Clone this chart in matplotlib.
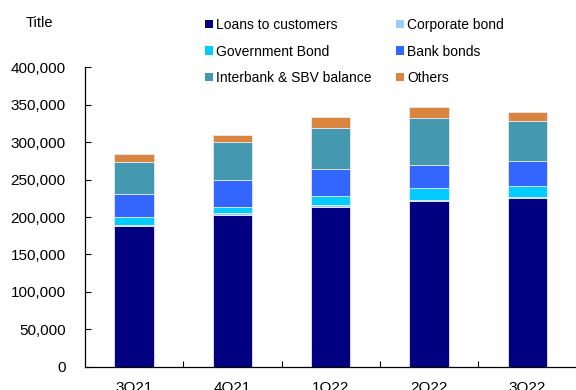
import matplotlib
matplotlib.use("Agg")
import matplotlib.pyplot as plt
from matplotlib.patches import Patch
from matplotlib.ticker import FuncFormatter
import numpy as np

plt.rcParams['font.family'] = ['Liberation Sans', 'DejaVu Sans']

# =========================
# DATOS
# =========================
trimestres = ["3Q21", "4Q21", "1Q22", "2Q22", "3Q22"]
loans = [187500, 203000, 213000, 221000, 225000]
corporate = [1500, 3000, 3500, 2000, 2000]
government = [10500, 7000, 12000, 16000, 15000]
bank = [31500, 36500, 36000, 31000, 32500]
interbank = [43000, 51500, 55000, 63000, 53500]
others = [10000, 9000, 14000, 14500, 12500]

series = [
    ("Loans to customers", loans, "#000080"),
    ("Corporate bond", corporate, "#99CCFF"),
    ("Government Bond", government, "#00CCFF"),
    ("Bank bonds", bank, "#3366FF"),
    ("Interbank & SBV balance", interbank, "#4499B0"),
    ("Others", others, "#DA853D"),
]

# =========================
# FIGURA
# =========================
fig = plt.figure(figsize=(5.76, 3.9), dpi=100)
ax = fig.add_axes([85 / 576, 1 - 366.7 / 390, (576.5 - 85) / 576, (366.7 - 67.5) / 390])

x = np.arange(len(trimestres))
base = np.zeros(len(trimestres))
for nombre, valores, color in series:
    ax.bar(x, valores, width=0.4, bottom=base, color=color,
           edgecolor="#e8e8f4", linewidth=0.6, label=nombre)
    base += np.array(valores)

ax.set_xlim(-0.5, len(trimestres) - 0.5)
ax.set_ylim(0, 400000)
ax.set_yticks(np.arange(0, 400001, 50000))
ax.yaxis.set_major_formatter(FuncFormatter(lambda v, p: f"{int(v):,}"))

ax.set_xticks(x)
ax.set_xticklabels(trimestres)
ax.set_xticks(np.arange(0.5, len(trimestres) - 0.5, 1), minor=True)
ax.tick_params(axis="x", which="major", length=0, pad=10, labelsize=11)
ax.tick_params(axis="x", which="minor", direction="in", length=4, width=0.8)
ax.tick_params(axis="y", direction="in", length=4, width=0.8, pad=14, labelsize=11)

for lado in ["top", "right"]:
    ax.spines[lado].set_visible(False)
for lado in ["left", "bottom"]:
    ax.spines[lado].set_linewidth(0.9)

fig.text(26 / 576, 1 - 23 / 390, "Title", fontsize=10.5, va="center", ha="left")

# leyenda por filas: matplotlib llena por columnas, asi que se reordena
orden = [0, 2, 4, 1, 3, 5]
handles = [Patch(facecolor=series[i][2], edgecolor="none") for i in orden]
labels = [series[i][0] for i in orden]
fig.legend(handles, labels, ncol=2, loc="upper left",
           bbox_to_anchor=(205 / 576, 1 - 18 / 390), frameon=False,
           fontsize=10, handlelength=0.55, handleheight=0.55, handletextpad=0.25,
           labelspacing=0.9, columnspacing=1.75, borderaxespad=0, borderpad=0)

fig.savefig("out.png", dpi=100)
